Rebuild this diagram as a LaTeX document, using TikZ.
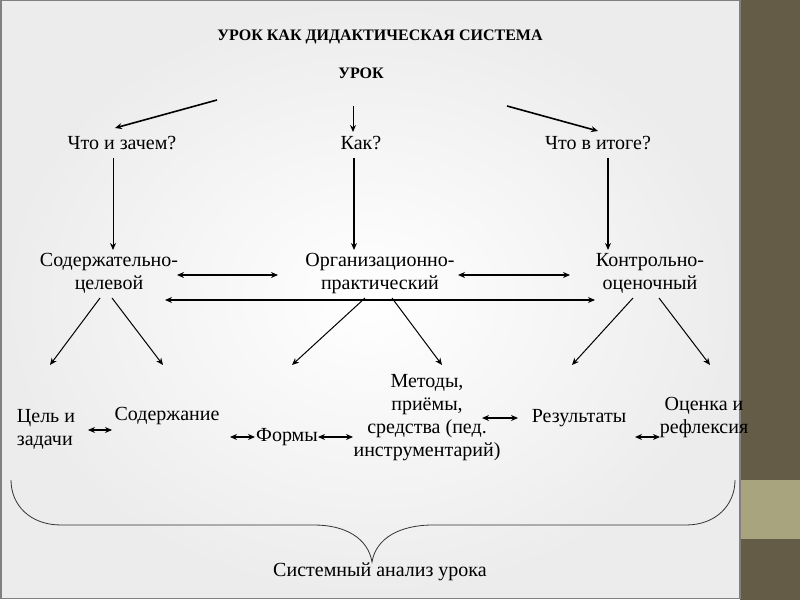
\documentclass[tikz,border=0pt]{standalone}
\usepackage{fontspec}
\setmainfont{Liberation Serif}
\usetikzlibrary{arrows.meta, positioning}

\definecolor{olivedark}{HTML}{645C47}
\definecolor{olivelight}{HTML}{A8A47E}

\tikzset{
    lbl/.style={font=\fontsize{20}{23}\selectfont, align=center, inner sep=0pt},
    ttl/.style={font=\fontsize{16}{19}\selectfont\bfseries, inner sep=0pt},
    arr/.style={-{Stealth[length=7pt,width=6pt]}, line width=1pt},
    tharr/.style={-{Stealth[length=7pt,width=6pt]}, line width=1.6pt},
    darr/.style={{Stealth[length=7pt,width=6pt]}-{Stealth[length=7pt,width=6pt]}, line width=1.6pt},
}

\begin{document}
\begin{tikzpicture}[x=1pt,y=1pt]
    \useasboundingbox (0,0) rectangle (800,600);
    % slide and side strip
    \fill[olivedark] (740,0) rectangle (800,600);
    \fill[olivelight] (740,61) rectangle (800,120);
    \shade[inner color=white, outer color=gray!15] (0,2) rectangle (740,600);
    \draw[gray, line width=1.5pt] (0.75,600) -- (0.75,1.5) -- (740,1.5) -- (740,600);
    \draw[gray, line width=1.5pt] (0,599.25) -- (740,599.25);

    % texts
    \node[ttl] (title) at (380,563) {УРОК КАК ДИДАКТИЧЕСКАЯ СИСТЕМА};
    \node[ttl] (urok) at (361,527) {УРОК};

    \node[lbl] (q1) at (122,457) {Что и зачем?};
    \node[lbl] (q2) at (361,457) {Как?};
    \node[lbl] (q3) at (598,457) {Что в итоге?};

    \node[lbl] (c1) at (109,327) {Содержательно-\\целевой};
    \node[lbl] (c2) at (380,326) {Организационно-\\практический};
    \node[lbl] (c3) at (650,327) {Контрольно-\\оценочный};

    \node[lbl, align=left] (d1) at (46,171) {Цель и\\задачи};
    \node[lbl] (d2) at (167,184) {Содержание};
    \node[lbl] (d3) at (287,163) {Формы};
    \node[lbl] (d4) at (427,182.5) {Методы,\\приёмы,\\средства (пед.\\инструментарий)};
    \node[lbl] (d5) at (579,182) {Результаты};
    \node[lbl] (d6) at (704,182) {Оценка и\\рефлексия};

    \node[lbl] (sys) at (380,28) {Системный анализ урока};

    % top arrows
    \draw[tharr] ([shift={(-144,-27)}]urok.center) -- ([shift={(-7,15)}]q1.center);
    \draw[arr] ([shift={(-8,-33)}]urok.center) -- ([shift={(-8,11)}]q2.center);
    \draw[tharr] ([shift={(146,-33)}]urok.center) -- ([shift={(0,12)}]q3.center);

    % vertical arrows
    \draw[arr] ([shift={(-9,-15)}]q1.center) -- ([shift={(4,23)}]c1.center);
    \draw[tharr] ([shift={(-7,-15)}]q2.center) -- ([shift={(-26,24)}]c2.center);
    \draw[tharr] ([shift={(10,-15)}]q3.center) -- ([shift={(-42,23)}]c3.center);

    % links between the three sides
    \draw[darr] ([shift={(68,-2)}]c1.center) -- ([shift={(-102,-1)}]c2.center);
    \draw[darr] ([shift={(78,-1)}]c2.center) -- ([shift={(-80,-2)}]c3.center);
    \draw[darr] ([shift={(56,-27)}]c1.center) -- ([shift={(-55,-27)}]c3.center);

    % down to the components
    \draw[arr] ([shift={(-9,-25)}]c1.center) -- ([shift={(4,64)}]d1.center);
    \draw[arr] ([shift={(3,-25)}]c1.center) -- ([shift={(-4,51)}]d2.center);
    \draw[arr] ([shift={(-15,-24)}]c2.center) -- ([shift={(5,72)}]d3.center);
    \draw[arr] ([shift={(12,-24)}]c2.center) -- ([shift={(15,52.5)}]d4.center);
    \draw[arr] ([shift={(-17,-25)}]c3.center) -- ([shift={(-7,53)}]d5.center);
    \draw[arr] ([shift={(9,-25)}]c3.center) -- ([shift={(6,53)}]d6.center);

    % links between components
    \draw[darr] ([shift={(42,-1)}]d1.center) -- ([shift={(-55,-14)}]d2.center);
    \draw[darr] ([shift={(-57,0)}]d3.center) -- ([shift={(-32,0)}]d3.center);
    \draw[darr] ([shift={(31,0)}]d3.center) -- ([shift={(-74,-19.5)}]d4.center);
    \draw[darr] ([shift={(55,-0.5)}]d4.center) -- ([shift={(-61,0)}]d5.center);
    \draw[darr] ([shift={(56,-19)}]d5.center) -- ([shift={(-44,-19)}]d6.center);

    % brace
    \draw[gray!40!black, line width=0.8pt] (11,120) .. controls (11,95) and (30,75) .. (61,75)
        -- (314,75) .. controls (345,75) and (368,62) .. (372,38)
        .. controls (376,62) and (400,75) .. (433,75)
        -- (686,75) .. controls (716,75) and (735,95) .. (735,120);
\end{tikzpicture}
\end{document}
